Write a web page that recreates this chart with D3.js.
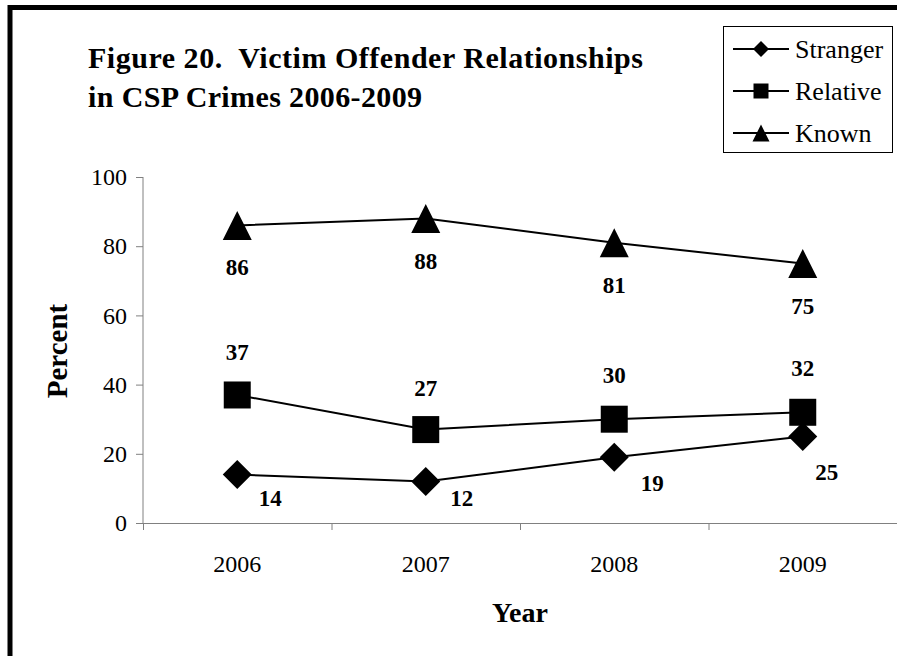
<!DOCTYPE html>
<html>
<head>
<meta charset="utf-8">
<script src="https://d3js.org/d3.v7.min.js"></script>
<style>
  body { margin: 0; background: #fff; }
  svg text { font-family: "Liberation Serif", "Times New Roman", Times, serif; fill: #000; }
  .axis path, .axis line { stroke: #808080; }
  .axis text { font-size: 24px; }
  .lbl { font-size: 23px; font-weight: bold; }
</style>
</head>
<body>
<script>
// data
var years = ["2006", "2007", "2008", "2009"];
var seriesNames = ["Stranger", "Relative", "Known"];
var stranger = [14, 12, 19, 25];
var relative = [37, 27, 30, 32];
var known = [86, 88, 81, 75];
var yTicks = [0, 20, 40, 60, 80, 100];

var W = 897, H = 656;

var svg = d3.select("body").append("svg")
  .attr("width", W).attr("height", H);

svg.append("rect").attr("width", W).attr("height", H).attr("fill", "#fff");

// thick frame (left + top)
svg.append("path")
  .attr("d", "M10," + H + "V7.5H" + W)
  .attr("fill", "none").attr("stroke", "#000").attr("stroke-width", 5);

var x = d3.scaleBand().domain(years).range([143, 897]);
var xEdge = d3.scaleLinear().domain([0, years.length]).range([143, 897]);
var y = d3.scaleLinear().domain([0, 100]).range([523, 177]);

// y axis
svg.append("g").attr("class", "axis")
  .attr("transform", "translate(143,0)")
  .call(d3.axisLeft(y).tickValues(yTicks).tickSize(7).tickSizeOuter(0).tickPadding(9))
  .call(function(g) { g.select(".domain").attr("d", "M0," + y(0) + "V" + y(100)); });

// x axis: boundary ticks
svg.append("g").attr("class", "axis")
  .attr("transform", "translate(0," + y(0) + ")")
  .call(d3.axisBottom(xEdge).tickValues(d3.range(years.length + 1)).tickFormat("").tickSize(7).tickSizeOuter(0));

// x axis labels
svg.append("g").attr("class", "axis")
  .attr("transform", "translate(0," + y(0) + ")")
  .call(d3.axisBottom(x).tickSize(0).tickPadding(32))
  .call(function(g) { g.select(".domain").remove(); });

// custom marker shapes
var diamond = {
  draw: function(ctx, size) {
    var r = Math.sqrt(size) / 2;
    ctx.moveTo(0, -r); ctx.lineTo(r, 0); ctx.lineTo(0, r); ctx.lineTo(-r, 0); ctx.closePath();
  }
};
var square = {
  draw: function(ctx, size) {
    var r = Math.sqrt(size) / 2;
    ctx.rect(-r, -r, 2 * r, 2 * r);
  }
};
var triangle = {
  draw: function(ctx, size) {
    var r = Math.sqrt(size) / 2;
    ctx.moveTo(0, -r); ctx.lineTo(r, r); ctx.lineTo(-r, r); ctx.closePath();
  }
};

var series = [
  { name: seriesNames[0], values: stranger, shape: diamond, size: 29 * 29, legSize: 16 * 16 },
  { name: seriesNames[1], values: relative, shape: square, size: 27 * 27, legSize: 15 * 15 },
  { name: seriesNames[2], values: known, shape: triangle, size: 29 * 29, legSize: 17 * 17 }
];

var line = d3.line()
  .x(function(d, i) { return x(years[i]) + x.bandwidth() / 2; })
  .y(function(d) { return y(d); });

series.forEach(function(s) {
  svg.append("path")
    .attr("d", line(s.values))
    .attr("fill", "none").attr("stroke", "#000").attr("stroke-width", 2);

  svg.selectAll(null).data(s.values).enter().append("path")
    .attr("transform", function(d, i) {
      return "translate(" + (x(years[i]) + x.bandwidth() / 2) + "," + y(d) + ")";
    })
    .attr("d", d3.symbol().type(s.shape).size(s.size))
    .attr("fill", "#000");
});

// data labels (offsets from each point)
var labelOffsets = [
  [[33, 23], [36, 16], [38, 26], [24, 35]],
  [[0, -43], [0, -42], [0, -44], [0, -44]],
  [[0, 42], [0, 42], [0, 42], [0, 42]]
];
series.forEach(function(s, si) {
  svg.selectAll(null).data(s.values).enter().append("text")
    .attr("class", "lbl")
    .attr("text-anchor", "middle")
    .attr("dy", "0.35em")
    .attr("x", function(d, i) { return x(years[i]) + x.bandwidth() / 2 + labelOffsets[si][i][0]; })
    .attr("y", function(d, i) { return y(d) + labelOffsets[si][i][1]; })
    .text(function(d) { return d; });
});

// title
var title = svg.append("text")
  .attr("font-size", 30).attr("font-weight", "bold")
  .style("white-space", "pre");
title.append("tspan").attr("x", 88).attr("y", 68)
  .attr("textLength", 555).attr("lengthAdjust", "spacing")
  .text("Figure 20.  Victim Offender Relationships");
title.append("tspan").attr("x", 88).attr("y", 107)
  .attr("textLength", 334).attr("lengthAdjust", "spacing")
  .text("in CSP Crimes 2006-2009");

// axis titles
svg.append("text")
  .attr("font-size", 29).attr("font-weight", "bold")
  .attr("text-anchor", "middle")
  .attr("transform", "translate(67,351) rotate(-90)")
  .text("Percent");

svg.append("text")
  .attr("font-size", 28).attr("font-weight", "bold")
  .attr("text-anchor", "middle")
  .attr("x", 520).attr("y", 622)
  .text("Year");

// legend
var legend = svg.append("g");
legend.append("rect")
  .attr("x", 723.5).attr("y", 26.5).attr("width", 169).attr("height", 126)
  .attr("fill", "#fff").attr("stroke", "#000").attr("stroke-width", 1);

var item = legend.selectAll("g").data(series).enter().append("g")
  .attr("transform", function(d, i) { return "translate(0," + (49 + i * 42) + ")"; });

item.append("line")
  .attr("x1", 733).attr("x2", 789)
  .attr("stroke", "#000").attr("stroke-width", 2);

item.append("path")
  .attr("transform", "translate(761,0)")
  .attr("d", function(d) { return d3.symbol().type(d.shape).size(d.legSize)(); })
  .attr("fill", "#000");

item.append("text")
  .attr("x", 795).attr("dy", "0.35em")
  .attr("font-size", 26)
  .text(function(d) { return d.name; });
</script>
</body>
</html>
